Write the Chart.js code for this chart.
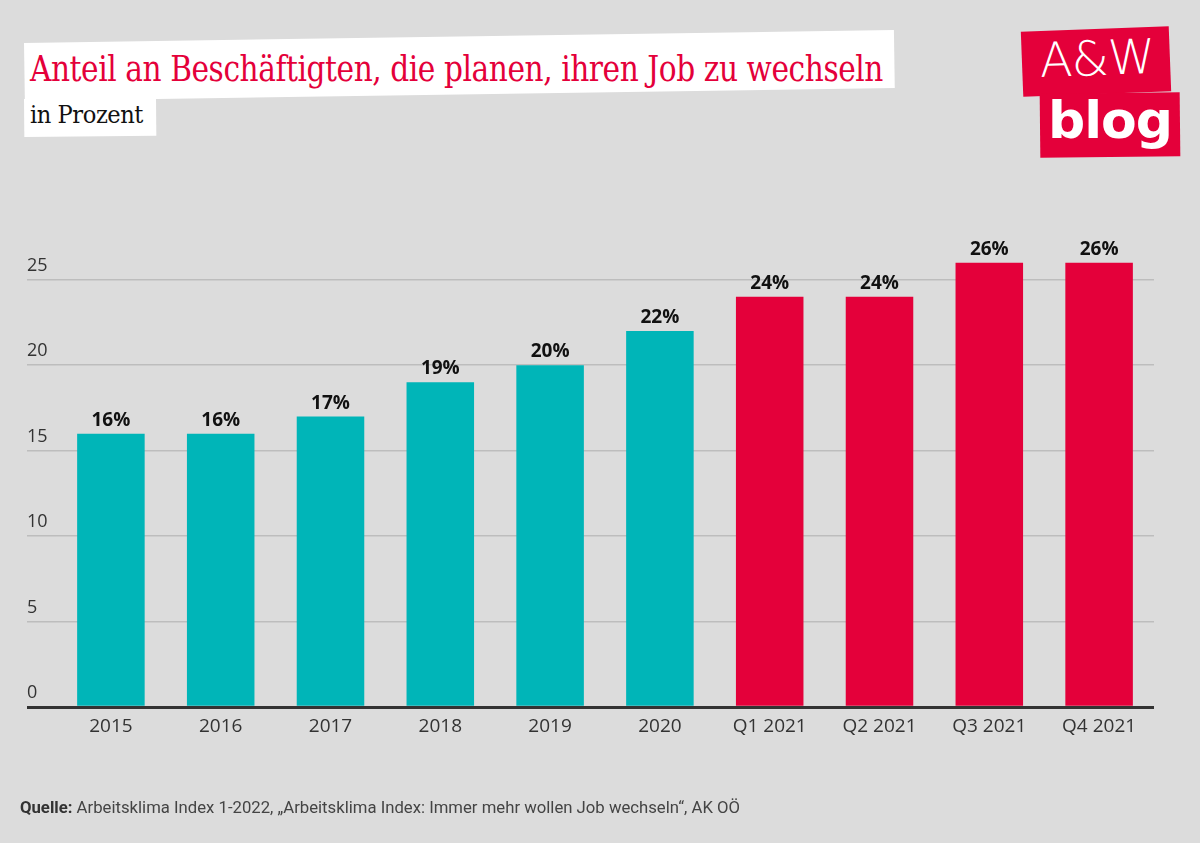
<!DOCTYPE html>
<html>
<head>
<meta charset="utf-8">
<script src="https://cdn.jsdelivr.net/npm/chart.js@4.4.0/dist/chart.umd.min.js"></script>
<style>
  html, body { margin: 0; padding: 0; background: #dcdcdc; }
  body { width: 1200px; height: 843px; position: relative; overflow: hidden; }
  #wrap { position: absolute; left: 0; top: 0; width: 1200px; height: 843px; }
  .box { position: absolute; background: #fff; transform-origin: left top; }
  .title { position: absolute; left: 30px; top: 49px; font-family: "DejaVu Serif", serif; font-size: 35px; color: #e4003a; white-space: nowrap; letter-spacing: -0.5px; transform-origin: left top; }
  .sub { position: absolute; left: 30px; top: 100px; font-family: "DejaVu Serif", serif; font-size: 25px; color: #111; white-space: nowrap; letter-spacing: -0.5px; transform-origin: left top; }
  .logo1 { position: absolute; left: 1022px; top: 29px; width: 148px; height: 65px; background: #e4003a; transform: rotate(-2.2deg); }
  .logo2 { position: absolute; left: 1040px; top: 93px; width: 140px; height: 64px; background: #e4003a; transform: rotate(-0.6deg); }
  .logoT1 { position: absolute; left: 1035px; top: 30px; width: 124px; text-align: center; font-family: "DejaVu Sans", sans-serif; font-weight: 300; font-size: 48px; color: #fff; transform: rotate(-2deg); letter-spacing: -1px; }
  .logoT2 { position: absolute; left: 1048px; top: 90px; width: 124px; text-align: center; font-family: "DejaVu Sans", sans-serif; font-weight: bold; font-size: 52px; color: #fff; letter-spacing: -1px; }
  .src { position: absolute; left: 20px; top: 797px; font-family: "Liberation Sans Narrow", "Roboto", sans-serif; font-size: 17px; color: #444; white-space: nowrap; transform-origin: left top; }
  .src b { color: #333; }
</style>
</head>
<body>
<div class="box" style="left:24px; top:43px; width:870px; height:58px; transform: rotate(-0.85deg);"></div>
<div class="box" style="left:24px; top:99px; width:132px; height:38px; transform: rotate(-0.5deg);"></div>
<div class="title" id="title">Anteil an Beschäftigten, die planen, ihren Job zu wechseln</div>
<div class="sub" id="sub">in Prozent</div>
<div class="logo1"></div>
<div class="logo2"></div>
<div class="logoT1">A&amp;W</div>
<div class="logoT2">blog</div>
<div id="wrap"><canvas id="c" width="1200" height="843"></canvas></div>
<div class="src" id="src"><b>Quelle:</b> Arbeitsklima Index 1-2022, „Arbeitsklima Index: Immer mehr wollen Job wechseln“, AK OÖ</div>
<script>
const categories = ["2015", "2016", "2017", "2018", "2019", "2020", "Q1 2021", "Q2 2021", "Q3 2021", "Q4 2021"];
const shares = [16, 16, 17, 19, 20, 22, 24, 24, 26, 26];
const barColors = ["#00b5b8", "#00b5b8", "#00b5b8", "#00b5b8", "#00b5b8", "#00b5b8", "#e4003a", "#e4003a", "#e4003a", "#e4003a"];
const yTickValues = [0, 5, 10, 15, 20, 25];

function fitWidth(id, w) {
  const el = document.getElementById(id);
  const cur = el.getBoundingClientRect().width;
  if (cur > 0) el.style.transform = 'scaleX(' + (w / cur) + ')';
}
fitWidth('title', 853);
fitWidth('sub', 113);
fitWidth('src', 720);

const valueLabels = {
  id: 'valueLabels',
  afterDatasetsDraw(chart) {
    const ctx = chart.ctx;
    const meta = chart.getDatasetMeta(0);
    ctx.save();
    ctx.font = 'bold 19px "Open Sans", sans-serif';
    ctx.fillStyle = '#111';
    ctx.textAlign = 'center';
    ctx.textBaseline = 'alphabetic';
    meta.data.forEach((bar, i) => {
      ctx.fillText(shares[i] + '%', bar.x, bar.y - 8);
    });
    ctx.restore();
  }
};

new Chart(document.getElementById('c'), {
  type: 'bar',
  data: {
    labels: categories,
    datasets: [{
      data: shares,
      backgroundColor: barColors,
      borderWidth: 0,
      barPercentage: 0.615,
      categoryPercentage: 1.0
    }]
  },
  options: {
    responsive: false,
    animation: false,
    events: [],
    layout: { padding: { left: 27, right: 46, top: 237, bottom: 97 } },
    plugins: { legend: { display: false }, tooltip: { enabled: false } },
    scales: {
      x: {
        grid: { display: false, drawTicks: false },
        border: { display: false },
        ticks: { color: '#333', font: { family: '"Open Sans", sans-serif', size: 19 }, padding: 8, maxRotation: 0 }
      },
      y: {
        min: 0,
        max: 27.5,
        afterBuildTicks(scale) {
          scale.ticks = yTickValues.map(v => ({ value: v }));
        },
        afterFit(scale) { scale.width = 29; },
        border: { display: false },
        grid: {
          drawTicks: true,
          tickLength: 29,
          color: ctx => ctx.tick && ctx.tick.value === 0 ? '#333' : '#bdbdbd',
          lineWidth: ctx => ctx.tick && ctx.tick.value === 0 ? 3 : 1.5
        },
        ticks: {
          crossAlign: 'far',
          labelOffset: -14,
          padding: 0,
          color: '#333',
          font: { family: '"Open Sans", sans-serif', size: 18 }
        }
      }
    }
  },
  plugins: [valueLabels]
});
</script>
</body>
</html>
